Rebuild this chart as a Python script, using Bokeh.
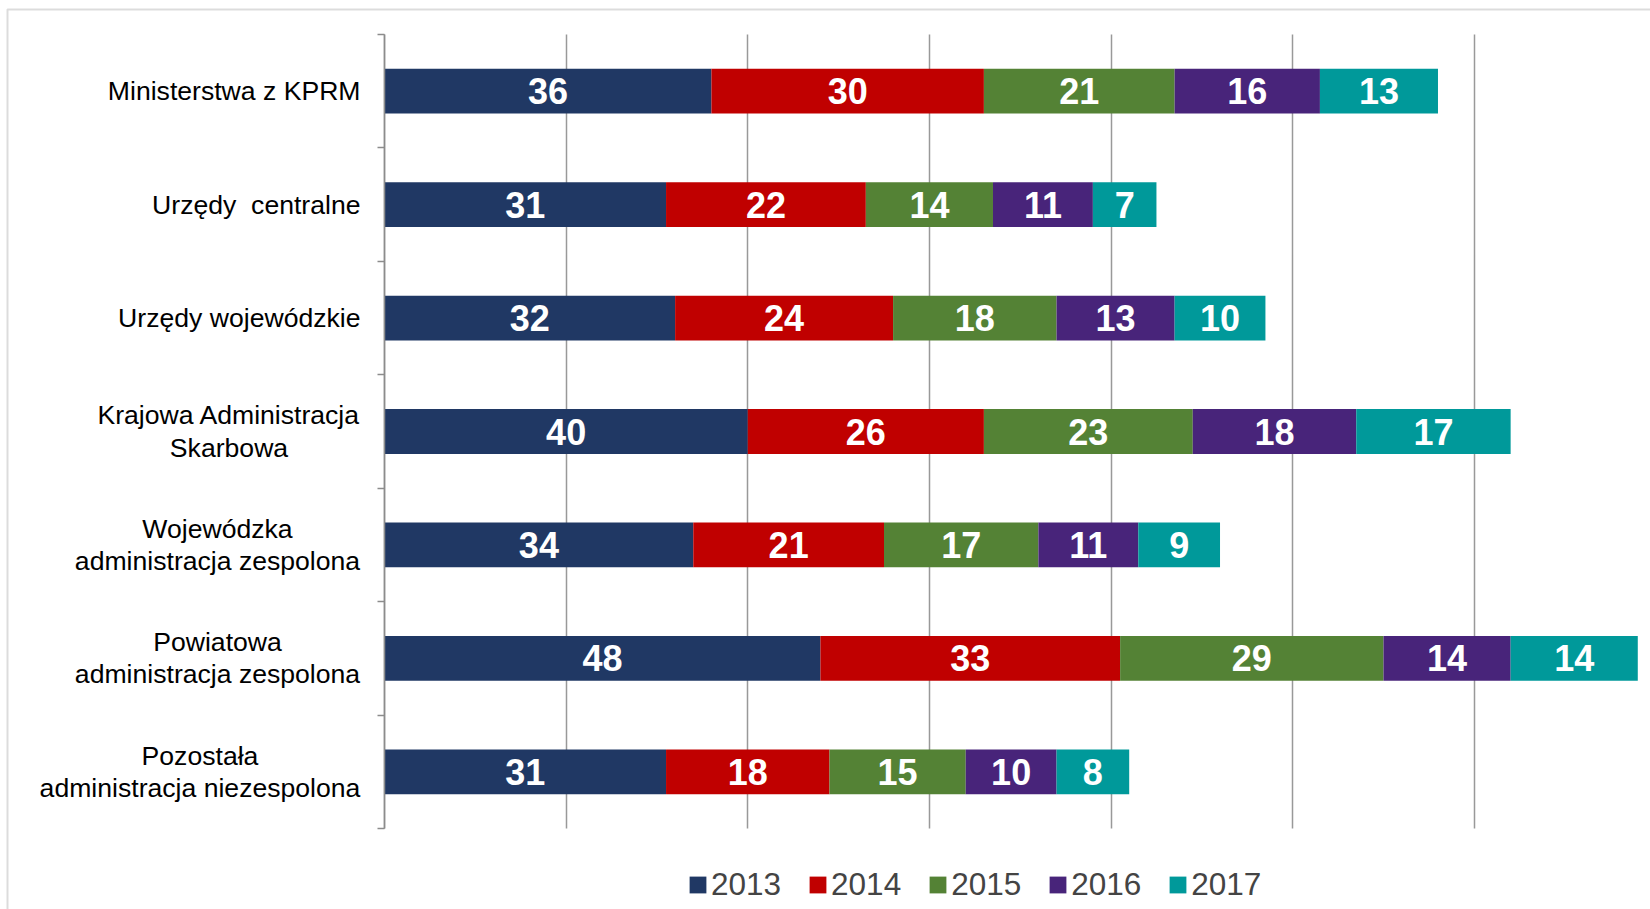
from bokeh.plotting import figure
from bokeh.models import (Range1d, FixedTicker, Legend, LegendItem,
                          BoxAnnotation, ColumnDataSource)
from bokeh.embed import file_html
from bokeh.resources import INLINE
from bokeh.core.properties import value

# ---------------- data ----------------
categories = [
    "Ministerstwa z KPRM",
    "Urzędy\u00a0 centralne",
    "Urzędy wojewódzkie",
    "Krajowa Administracja\nSkarbowa",
    "Wojewódzka\nadministracja zespolona",
    "Powiatowa\nadministracja zespolona",
    "Pozostała\nadministracja niezespolona",
]
years = ["2013", "2014", "2015", "2016", "2017"]
v2013 = [36, 31, 32, 40, 34, 48, 31]
v2014 = [30, 22, 24, 26, 21, 33, 18]
v2015 = [21, 14, 18, 23, 17, 29, 15]
v2016 = [16, 11, 13, 18, 11, 14, 10]
v2017 = [13, 7, 10, 17, 9, 14, 8]
x_ticks = [0, 20, 40, 60, 80, 100, 120, 140]

# ---------------- layout / styles ----------------
W, H = 1650, 909
PLOT_LEFT, PLOT_TOP, PLOT_BOTTOM = 384, 34, 828
X_VISIBLE_MAX = 139.4
colors = ["#203864", "#C00000", "#548235", "#48247A", "#00999A"]
FONT = "Liberation Sans"
GRID = "#999999"
AXIS = "#8c8c8c"

series = [v2013, v2014, v2015, v2016, v2017]
n = len(categories)
ypos = [i + 0.5 for i in range(n)]

ux = X_VISIBLE_MAX / (W - PLOT_LEFT)          # data units per pixel (x)
uy = n / (PLOT_BOTTOM - PLOT_TOP)             # data units per pixel (y)
x_range = Range1d(-PLOT_LEFT * ux, X_VISIBLE_MAX)
y_range = Range1d(n + (H - PLOT_BOTTOM) * uy, -PLOT_TOP * uy)

p = figure(width=W, height=H, x_range=x_range, y_range=y_range,
           output_backend="svg", toolbar_location=None,
           min_border=0, min_border_left=0, min_border_right=0,
           min_border_top=0, min_border_bottom=0)
p.outline_line_color = None
p.background_fill_color = "white"
p.border_fill_color = "white"

p.xaxis.visible = False
p.ygrid.visible = False

# vertical grid lines limited to the category area
grid_ok = False
try:
    p.xgrid.cross_bounds = (0, n)
    p.xgrid.ticker = FixedTicker(ticks=x_ticks)
    p.xgrid.grid_line_color = GRID
    p.xgrid.grid_line_width = 1.5
    grid_ok = True
except Exception:
    p.xgrid.visible = False
if not grid_ok:
    p.segment(x0=x_ticks, y0=[0] * len(x_ticks), x1=x_ticks, y1=[n] * len(x_ticks),
              line_color=GRID, line_width=1.5)

# y axis at x = 0, ticks at category boundaries, no labels
yax = p.yaxis[0]
yax.fixed_location = 0
yax.bounds = (0, n)
yax.ticker = FixedTicker(ticks=list(range(n + 1)))
yax.major_label_overrides = {i: "" for i in range(n + 1)}
yax.major_tick_in = 0
yax.major_tick_out = 7
yax.minor_tick_line_color = None
yax.axis_line_color = AXIS
yax.axis_line_width = 1.5
yax.major_tick_line_color = AXIS
yax.major_tick_line_width = 1.5

data = {"y": ypos}
for yr, vals in zip(years, series):
    data[yr] = vals
source = ColumnDataSource(data)

renderers = p.hbar_stack(years, y="y", height=0.395, color=colors, line_color=None,
                         source=source)

# value labels centred in each segment
lx, ly, lt = [], [], []
for i in range(n):
    left = 0
    for vals in series:
        lx.append(left + vals[i] / 2)
        ly.append(ypos[i])
        lt.append(str(vals[i]))
        left += vals[i]
p.text(x=lx, y=ly, text=lt, text_align="center", text_baseline="middle",
       text_color="white", text_font=value(FONT), text_font_style="bold",
       text_font_size="36px")

# category labels (single line: right aligned; two lines: centred block)
label_right_px = 24
multi_center_px = {3: 155.5, 4: 167, 5: 167, 6: 184.5}
sx, sy, st = [], [], []
mx, my, mt = [], [], []
for i, cat in enumerate(categories):
    if "\n" in cat:
        mx.append(-multi_center_px[i] * ux)
        my.append(ypos[i])
        mt.append(cat)
    else:
        sx.append(-label_right_px * ux)
        sy.append(ypos[i])
        st.append(cat)
p.text(x=sx, y=sy, text=st, text_align="right", text_baseline="middle",
       text_color="black", text_font=value(FONT), text_font_size="26.6px")
p.text(x=mx, y=my, text=mt, text_align="center", text_baseline="middle",
       text_color="black", text_font=value(FONT), text_font_size="26.6px",
       text_line_height=1.07)

# outer chart border (left and top edges visible)
border = BoxAnnotation(left=7, left_units="screen", right=W + 100, right_units="screen",
                       top=H - 9, top_units="screen", bottom=-100, bottom_units="screen",
                       fill_alpha=0, line_color=AXIS, line_width=2)
p.add_layout(border)

# legend
items = [LegendItem(label=yr, renderers=[r]) for yr, r in zip(years, renderers)]
legend = Legend(items=items, orientation="horizontal", location=(687, 6),
                glyph_width=21, glyph_height=21, label_standoff=3, spacing=26,
                label_text_font=FONT, label_text_font_size="31.5px",
                padding=0, margin=0, border_line_color=None, background_fill_alpha=0)
p.add_layout(legend)

open("out.html", "w").write(file_html(p, INLINE))
